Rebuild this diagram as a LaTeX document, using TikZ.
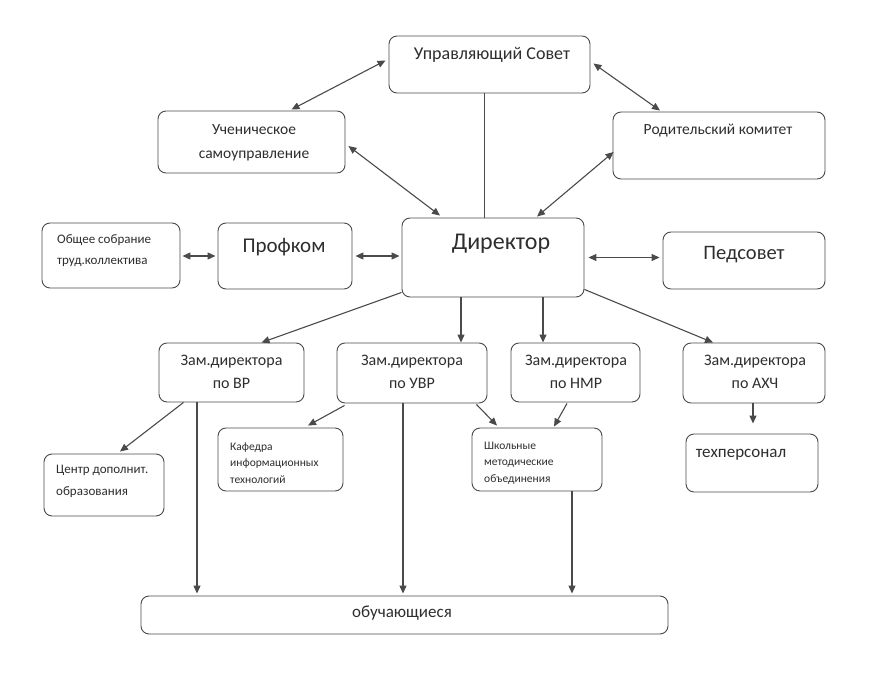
\documentclass[tikz,border=0pt]{standalone}
\usepackage{fontspec}
\setmainfont{Carlito}
\usetikzlibrary{arrows.meta,calc}
\definecolor{linec}{HTML}{4A4A4A}
\definecolor{textc}{HTML}{2E2E2E}
\tikzset{
  box/.style={draw=linec, line width=0.9pt, rounded corners=8pt, inner sep=0pt, fill=white},
  txt/.style={text=textc, inner sep=0pt, align=center},
  ltxt/.style={text=textc, inner sep=0pt, align=left, anchor=west},
  conn/.style={draw=linec, line width=1.1pt},
  arr/.style={conn, -{Triangle[length=8pt,width=7pt]}},
  darr/.style={conn, {Triangle[length=8pt,width=7pt]}-{Triangle[length=8pt,width=7pt]}},
}
\begin{document}
\begin{tikzpicture}[x=1pt,y=-1pt]
\useasboundingbox (0,0) rectangle (887,676);
% boxes
\node[box, minimum width=201pt, minimum height=57pt] (sovet) at (489.5,64.5) {};
\node[box, minimum width=187pt, minimum height=62pt] (uchen) at (251.5,142) {};
\node[box, minimum width=212pt, minimum height=67pt] (rodit) at (719,145.5) {};
\node[box, minimum width=182pt, minimum height=79pt] (dir) at (493,257.5) {};
\node[box, minimum width=134pt, minimum height=66pt] (prof) at (285,256) {};
\node[box, minimum width=138pt, minimum height=65pt] (obsch) at (111,255.5) {};
\node[box, minimum width=162pt, minimum height=57pt] (ped) at (744,260.5) {};
\node[box, minimum width=145pt, minimum height=59pt] (zvr) at (231.5,372.5) {};
\node[box, minimum width=150pt, minimum height=60pt] (zuvr) at (412,373) {};
\node[box, minimum width=129pt, minimum height=59pt] (znmr) at (575.5,372.5) {};
\node[box, minimum width=142pt, minimum height=60pt] (zahch) at (754,373) {};
\node[box, minimum width=120pt, minimum height=62pt] (centr) at (104,485) {};
\node[box, minimum width=125pt, minimum height=63pt] (kaf) at (280.5,459.5) {};
\node[box, minimum width=130pt, minimum height=63pt] (shk) at (537,459.5) {};
\node[box, minimum width=132pt, minimum height=58pt] (tex) at (752,463) {};
\node[box, minimum width=527pt, minimum height=38pt] (obuch) at (404.5,615) {};
% texts
\node[txt, font=\fontsize{18}{20}\selectfont] (tsovet) at (492,55) {Управляющий Совет};
\node[txt, font=\fontsize{15.5}{24}\selectfont] (tuchen) at (254,143) {Ученическое\\самоуправление};
\node[txt, font=\fontsize{15.5}{18}\selectfont] (trodit) at (718,131) {Родительский комитет};
\node[txt, font=\fontsize{24}{26}\selectfont] (tdir) at (501,244) {Директор};
\node[txt, font=\fontsize{21}{22}\selectfont] (tprof) at (284,247) {Профком};
\node[ltxt, font=\fontsize{13}{21}\selectfont] (tobsch) at (57,251) {Общее собрание\\труд.коллектива};
\node[txt, font=\fontsize{20.5}{22}\selectfont] (tped) at (744,255) {Педсовет};
\node[txt, font=\fontsize{16}{23}\selectfont] (tzvr) at (231.5,372) {Зам.директора\\по ВР};
\node[txt, font=\fontsize{16}{23}\selectfont] (tzuvr) at (412,372) {Зам.директора\\по УВР};
\node[txt, font=\fontsize{16}{23}\selectfont] (tznmr) at (576,372) {Зам.директора\\по НМР};
\node[txt, font=\fontsize{16}{23}\selectfont] (tzahch) at (755,372) {Зам.директора\\по АХЧ};
\node[ltxt, font=\fontsize{13}{22}\selectfont] (tcentr) at (56,481) {Центр дополнит.\\образования};
\node[ltxt, font=\fontsize{11.5}{16.5}\selectfont] (tkaf) at (230,463) {Кафедра\\информационных\\технологий};
\node[ltxt, font=\fontsize{11.5}{16.5}\selectfont] (tshk) at (484,463) {Школьные\\методические\\объединения};
\node[txt, font=\fontsize{17}{18}\selectfont] (ttex) at (741,455) {техперсонал};
\node[txt, font=\fontsize{17}{18}\selectfont] (tobuch) at (402,613) {обучающиеся};
% connectors
\draw[darr] ($(sovet.west)+(-3,-4)$) -- ($(uchen.north)+(40,-1)$);
\draw[darr] ($(sovet.east)+(3,-1)$) -- ($(rodit.north)+(-59,-1)$);
\draw[darr] ($(uchen.east)+(3,4)$) -- ($(dir.north)+(-53,-2)$);
\draw[darr] ($(rodit.west)+(1,6.5)$) -- ($(dir.north)+(44,-1)$);
\draw[conn] ($(sovet.south)+(-5,0)$) coordinate (sv) -- (sv |- dir.north);
\draw[darr, shorten <=2pt, shorten >=2pt] (obsch.east |- prof.west) -- (prof.west);
\draw[darr, shorten <=3pt, shorten >=2pt] (prof.east) -- (prof.east -| dir.west);
\draw[darr, shorten <=4pt, shorten >=3pt] (dir.east) -- (dir.east -| ped.west);
\draw[arr] ($(dir.south west)+(0,-5)$) -- ($(zvr.north)+(30,0)$);
\draw[arr] ($(dir.south)+(-32,0)$) coordinate (d1) -- (d1 |- zuvr.north);
\draw[arr] ($(dir.south)+(50,0)$) coordinate (d2) -- (d2 |- znmr.north);
\draw[arr] ($(dir.south east)+(0,-8)$) -- ($(zahch.north)+(-41,0)$);
\draw[arr] ($(zvr.south)+(-48,0)$) -- ($(centr.north)+(16,-2)$);
\draw[arr, shorten >=2pt] ($(zvr.south)+(-34.5,0)$) coordinate (v1) -- (v1 |- obuch.north);
\draw[arr] ($(zuvr.south west)+(8,2)$) -- ($(kaf.north)+(27.5,-2)$);
\draw[arr, shorten >=2pt] ($(zuvr.south)+(-9,0)$) coordinate (v2) -- (v2 |- obuch.north);
\draw[arr] ($(zuvr.south east)+(-11,1)$) -- ($(shk.north)+(-40,-2)$);
\draw[arr] ($(znmr.south)+(-8.5,1)$) -- ($(shk.north)+(17,-1)$);
\draw[arr, shorten >=10pt] ($(zahch.south)+(-1,0)$) coordinate (v3) -- (v3 |- tex.north);
\draw[arr, shorten >=2pt] ($(shk.south)+(35,0)$) coordinate (v4) -- (v4 |- obuch.north);
\end{tikzpicture}
\end{document}
